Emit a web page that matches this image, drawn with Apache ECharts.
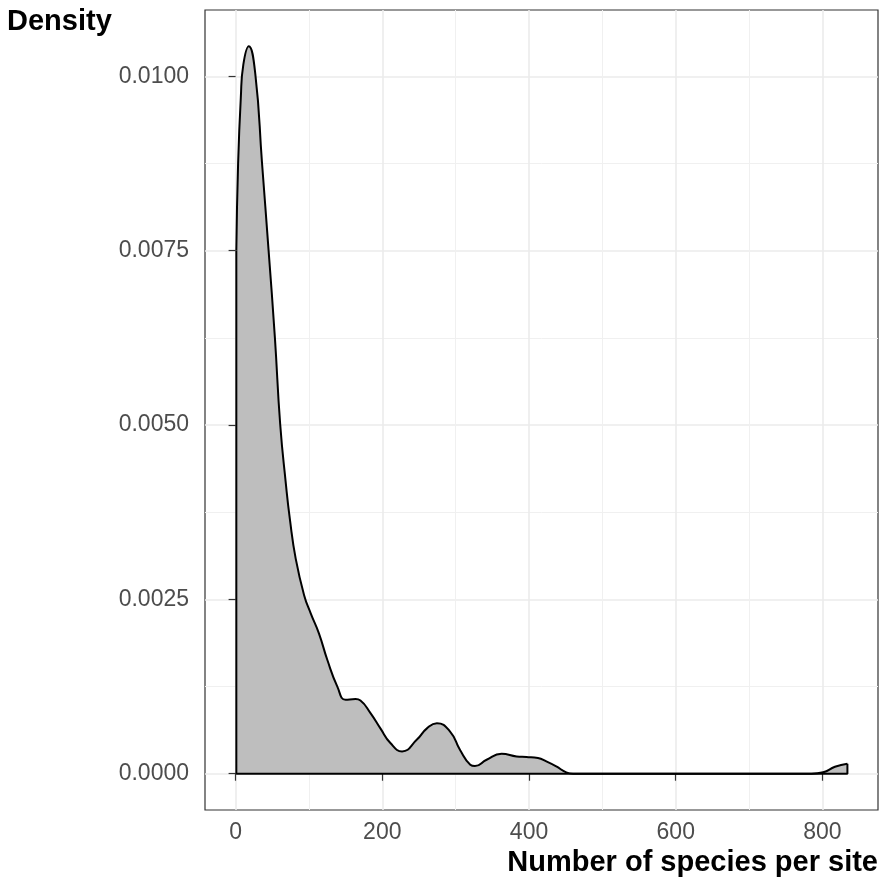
<!DOCTYPE html>
<html>
<head>
<meta charset="utf-8">
<script src="https://cdn.jsdelivr.net/npm/echarts@6/dist/echarts.min.js"></script>
<style>
    html, body { margin: 0; padding: 0; background: #fff; }
    #chart { width: 883px; height: 887px; }
</style>
</head>
<body>
<div id="chart"></div>
<script>
// density curve
var speciesX = [1, 3.4, 7.1, 10.6, 18, 26.9, 36, 45, 53.6, 60.8, 68.5, 74, 82, 93.4, 102.4, 113.7, 125.1, 138.7, 149.9, 163.5, 170.2, 183.9, 197.4, 211, 226.9, 247.2, 260.8, 274.4, 292.4, 306, 319.9, 326.3, 342.2, 362.6, 383, 396.5, 412.2, 423.6, 437.2, 450.7, 460, 785, 801, 817, 834];
var density = [0.0075, 0.00874, 0.00969, 0.01017, 0.01043, 0.01003, 0.00876, 0.0075, 0.00625, 0.00501, 0.00416, 0.00365, 0.00308, 0.00256, 0.0023, 0.00201, 0.00163, 0.00125, 0.00106, 0.00107, 0.00105, 0.00087, 0.00065, 0.00044, 0.00032, 0.00049, 0.00065, 0.000725, 0.000605, 0.00034, 0.00013, 0.00011, 0.0002, 0.000286, 0.000248, 0.000239, 0.000225, 0.000176, 0.000104, 0.00002, 0, 0, 0.00002, 0.0001, 0.000143];

var xMajor = [0, 200, 400, 600, 800];
var xMinor = [100, 300, 500, 700];
var yMajor = [0, 0.0025, 0.005, 0.0075, 0.01];
var yMinor = [0.00125, 0.00375, 0.00625, 0.00875];

var xRange = [-41.7, 875.7];
var yRange = [-0.00052, 0.01095];

var curve = speciesX.map(function (x, i) { return [x, density[i]]; });
var n = speciesX.length;
var edges = [
    [speciesX[0], density[0]],
    [speciesX[0], 0],
    [speciesX[n - 1], 0],
    [speciesX[n - 1], density[n - 1]]
];

var font = 'Liberation Sans, Arial, sans-serif';
var labelStyle = { color: '#4D4D4D', fontSize: 23, fontFamily: font };
var titleStyle = { fontSize: 29, fontWeight: 'bold', color: '#000', fontFamily: font };
var majorLine = { show: true, lineStyle: { color: '#EBEBEB', width: 1.6 } };
var minorLine = { show: true, lineStyle: { color: '#F0F0F0', width: 1 } };

var chart = echarts.init(document.getElementById('chart'));
chart.setOption({
    animation: false,
    backgroundColor: '#fff',
    title: [
        { text: 'Density', left: 7, top: 7, padding: 0, textStyle: titleStyle },
        { text: 'Number of species per site', right: 5, top: 848, padding: 0, textStyle: titleStyle }
    ],
    grid: {
        left: 205, right: 5, top: 10, bottom: 77,
        show: true, borderColor: '#333', borderWidth: 1.2, backgroundColor: 'transparent'
    },
    xAxis: [
        {
            type: 'value', min: xRange[0], max: xRange[1],
            axisLine: { show: false },
            axisTick: { show: true, length: 7, customValues: xMajor, lineStyle: { color: '#333', width: 1.2 } },
            axisLabel: Object.assign({ customValues: xMajor, margin: 11 }, labelStyle),
            splitLine: majorLine
        },
        {
            type: 'value', min: xRange[0], max: xRange[1],
            axisLine: { show: false },
            axisTick: { show: false, customValues: xMinor },
            axisLabel: { show: false },
            splitLine: minorLine
        }
    ],
    yAxis: [
        {
            type: 'value', min: yRange[0], max: yRange[1],
            axisLine: { show: false },
            axisTick: { show: true, length: 7, customValues: yMajor, lineStyle: { color: '#333', width: 1.2 } },
            axisLabel: Object.assign({
                customValues: yMajor, margin: 16,
                formatter: function (v) { return v.toFixed(4); }
            }, labelStyle),
            splitLine: majorLine
        },
        {
            type: 'value', min: yRange[0], max: yRange[1],
            axisLine: { show: false },
            axisTick: { show: false, customValues: yMinor },
            axisLabel: { show: false },
            splitLine: minorLine
        }
    ],
    series: [
        {
            type: 'line',
            data: curve,
            smooth: 0.5,
            symbol: 'none',
            lineStyle: { color: '#000', width: 2 },
            areaStyle: { color: '#BEBEBE', opacity: 1 },
            z: 3
        },
        {
            type: 'line',
            data: edges,
            symbol: 'none',
            lineStyle: { color: '#000', width: 2 },
            z: 4
        }
    ]
});
</script>
</body>
</html>
